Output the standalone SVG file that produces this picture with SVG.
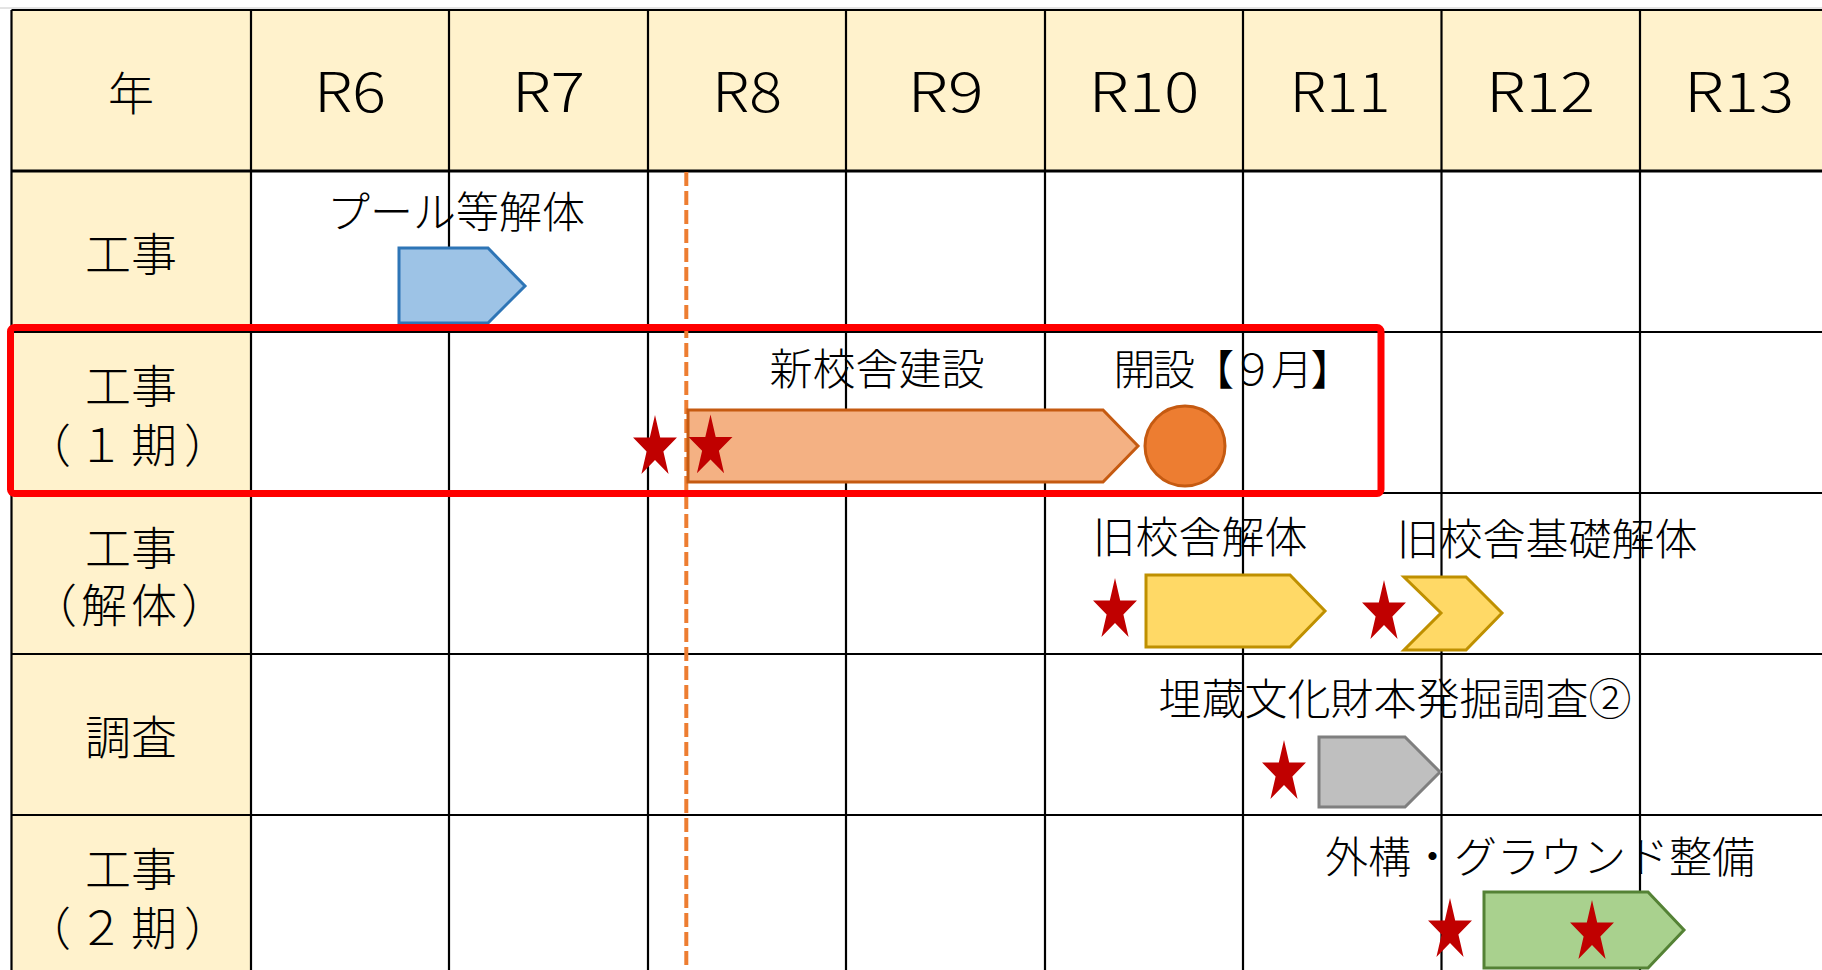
<svg xmlns="http://www.w3.org/2000/svg" xmlns:xlink="http://www.w3.org/1999/xlink" width="1822" height="970" viewBox="0 0 1822 970">
<style>
.cell{fill:#FFF2CC;}
.grid line{stroke:#000;stroke-width:2.2;}
.t{font-family:"Noto Sans CJK JP","Noto Sans",sans-serif;font-weight:300;fill:#000;text-anchor:middle;}
.hd{font-size:55px;}
.lb{font-size:46px;}
.bl{font-size:43px;}
.bar{stroke-width:3;stroke-linejoin:miter;}
.star{fill:#C00000;}
</style>
<defs>
<path id="star" d="M0,-32.6L5.19,-10.07L21.97,-10.07L8.39,3.85L13.58,26.37L0,12.45L-13.58,26.37L-8.39,3.85L-21.97,-10.07L-5.19,-10.07Z"/>
</defs>
<rect x="0" y="0" width="1822" height="970" fill="#fff"/>
<line x1="0" y1="8" x2="1822" y2="8" stroke="#c8c8c8" stroke-width="1"/>
<g id="background">
<rect class="cell" x="11.5" y="10" width="1811" height="161"/>
<rect class="cell" x="11.5" y="171" width="239.5" height="800"/>
</g>
<g id="grid" class="grid">
<line x1="11.5" y1="10" x2="1822" y2="10"/>
<line x1="11.5" y1="171" x2="1822" y2="171" style="stroke-width:3"/>
<line x1="11.5" y1="332" x2="1822" y2="332"/>
<line x1="11.5" y1="493" x2="1822" y2="493"/>
<line x1="11.5" y1="654" x2="1822" y2="654"/>
<line x1="11.5" y1="815" x2="1822" y2="815"/>
<line x1="11.5" y1="10" x2="11.5" y2="970"/>
<line x1="251" y1="10" x2="251" y2="970"/>
<line x1="449" y1="10" x2="449" y2="970"/>
<line x1="648" y1="10" x2="648" y2="970"/>
<line x1="846" y1="10" x2="846" y2="970"/>
<line x1="1045" y1="10" x2="1045" y2="970"/>
<line x1="1243" y1="10" x2="1243" y2="970"/>
<line x1="1441.5" y1="10" x2="1441.5" y2="970"/>
<line x1="1640" y1="10" x2="1640" y2="970"/>
</g>
<g id="header-text">
<text class="t" x="131" y="110" style="font-size:46px">年</text>
<text class="t hd" x="350" y="112" textLength="72" lengthAdjust="spacingAndGlyphs">R6</text>
<text class="t hd" x="548.5" y="112" textLength="73" lengthAdjust="spacingAndGlyphs">R7</text>
<text class="t hd" x="747" y="112" textLength="70" lengthAdjust="spacingAndGlyphs">R8</text>
<text class="t hd" x="945.5" y="112" textLength="76" lengthAdjust="spacingAndGlyphs">R9</text>
<text class="t hd" x="1144" y="112" textLength="111" lengthAdjust="spacingAndGlyphs">R10</text>
<text class="t hd" x="1340" y="112" textLength="101" lengthAdjust="spacingAndGlyphs">R11</text>
<text class="t hd" x="1540.5" y="112" textLength="109" lengthAdjust="spacingAndGlyphs">R12</text>
<text class="t hd" x="1739" y="112" textLength="110" lengthAdjust="spacingAndGlyphs">R13</text>
</g>
<g id="row-labels">
<text class="t lb" x="131" y="271">工事</text>
<text class="t lb" x="131" y="403">工事</text>
<text class="t lb" x="131" y="462" style="letter-spacing:7px">（１期）</text>
<text class="t lb" x="131" y="565">工事</text>
<text class="t lb" x="131" y="622" style="letter-spacing:4px">（解体）</text>
<text class="t lb" x="131" y="754">調査</text>
<text class="t lb" x="131" y="886">工事</text>
<text class="t lb" x="131" y="945" style="letter-spacing:7px">（２期）</text>
</g>
<g id="connectors">
<line id="today-line" x1="686.3" y1="172" x2="686.3" y2="970" stroke="#ED7D31" stroke-width="4" stroke-dasharray="14 5"/>
</g>
<g id="pool-demolition">
<polygon class="bar" points="399,248 488,248 525,286 488,323 399,323" fill="#9DC3E6" stroke="#2E75B6"/>
<text class="t bl" x="456" y="228">プール等解体</text>
</g>
<g id="new-building">
<polygon class="bar" points="688,410 1103,410 1138,446 1103,482 688,482" fill="#F4B183" stroke="#C55A11"/>
<text class="t bl" x="877" y="385">新校舎建設</text>
</g>
<g id="opening">
<ellipse cx="1185" cy="446" rx="40" ry="40" fill="#ED7D31" stroke="#C55A11" stroke-width="3"/>
<text class="t" x="1233" y="385" style="font-size:42px" textLength="239" lengthAdjust="spacing">開設【９月】</text>
</g>
<g id="old-building-demolition">
<polygon class="bar" points="1146,575 1290,575 1325,611 1290,647 1146,647" fill="#FFD966" stroke="#BF9000"/>
<text class="t bl" x="1200" y="553">旧校舎解体</text>
</g>
<g id="old-foundation-demolition">
<polygon class="bar" points="1404,577 1466,577 1502,613 1466,650 1404,650 1441,613" fill="#FFD966" stroke="#BF9000"/>
<text class="t bl" x="1547" y="555">旧校舎基礎解体</text>
</g>
<g id="excavation-survey">
<polygon class="bar" points="1319,737 1405,737 1440,772 1405,807 1319,807" fill="#BFBFBF" stroke="#7F7F7F"/>
<text class="t bl" x="1395" y="715">埋蔵文化財本発掘調査②</text>
</g>
<g id="exterior-ground">
<polygon class="bar" points="1484,892 1648,892 1684,930 1648,968 1484,968" fill="#A9D18E" stroke="#548235"/>
<text class="t bl" x="1540" y="873">外構・グラウンド整備</text>
</g>
<g id="stars" class="star">
<use xlink:href="#star" href="#star" x="655" y="447.6"/>
<use xlink:href="#star" href="#star" x="710.5" y="447"/>
<use xlink:href="#star" href="#star" x="1115" y="610.6"/>
<use xlink:href="#star" href="#star" x="1384" y="612.6"/>
<use xlink:href="#star" href="#star" x="1284" y="772.6"/>
<use xlink:href="#star" href="#star" x="1450" y="930.6"/>
<use xlink:href="#star" href="#star" x="1592" y="932.6"/>
</g>
<g id="phase1-highlight">
<rect x="10.5" y="327.5" width="1370.5" height="166" rx="4" ry="4" fill="none" stroke="#FF0000" stroke-width="7"/>
</g>
</svg>
